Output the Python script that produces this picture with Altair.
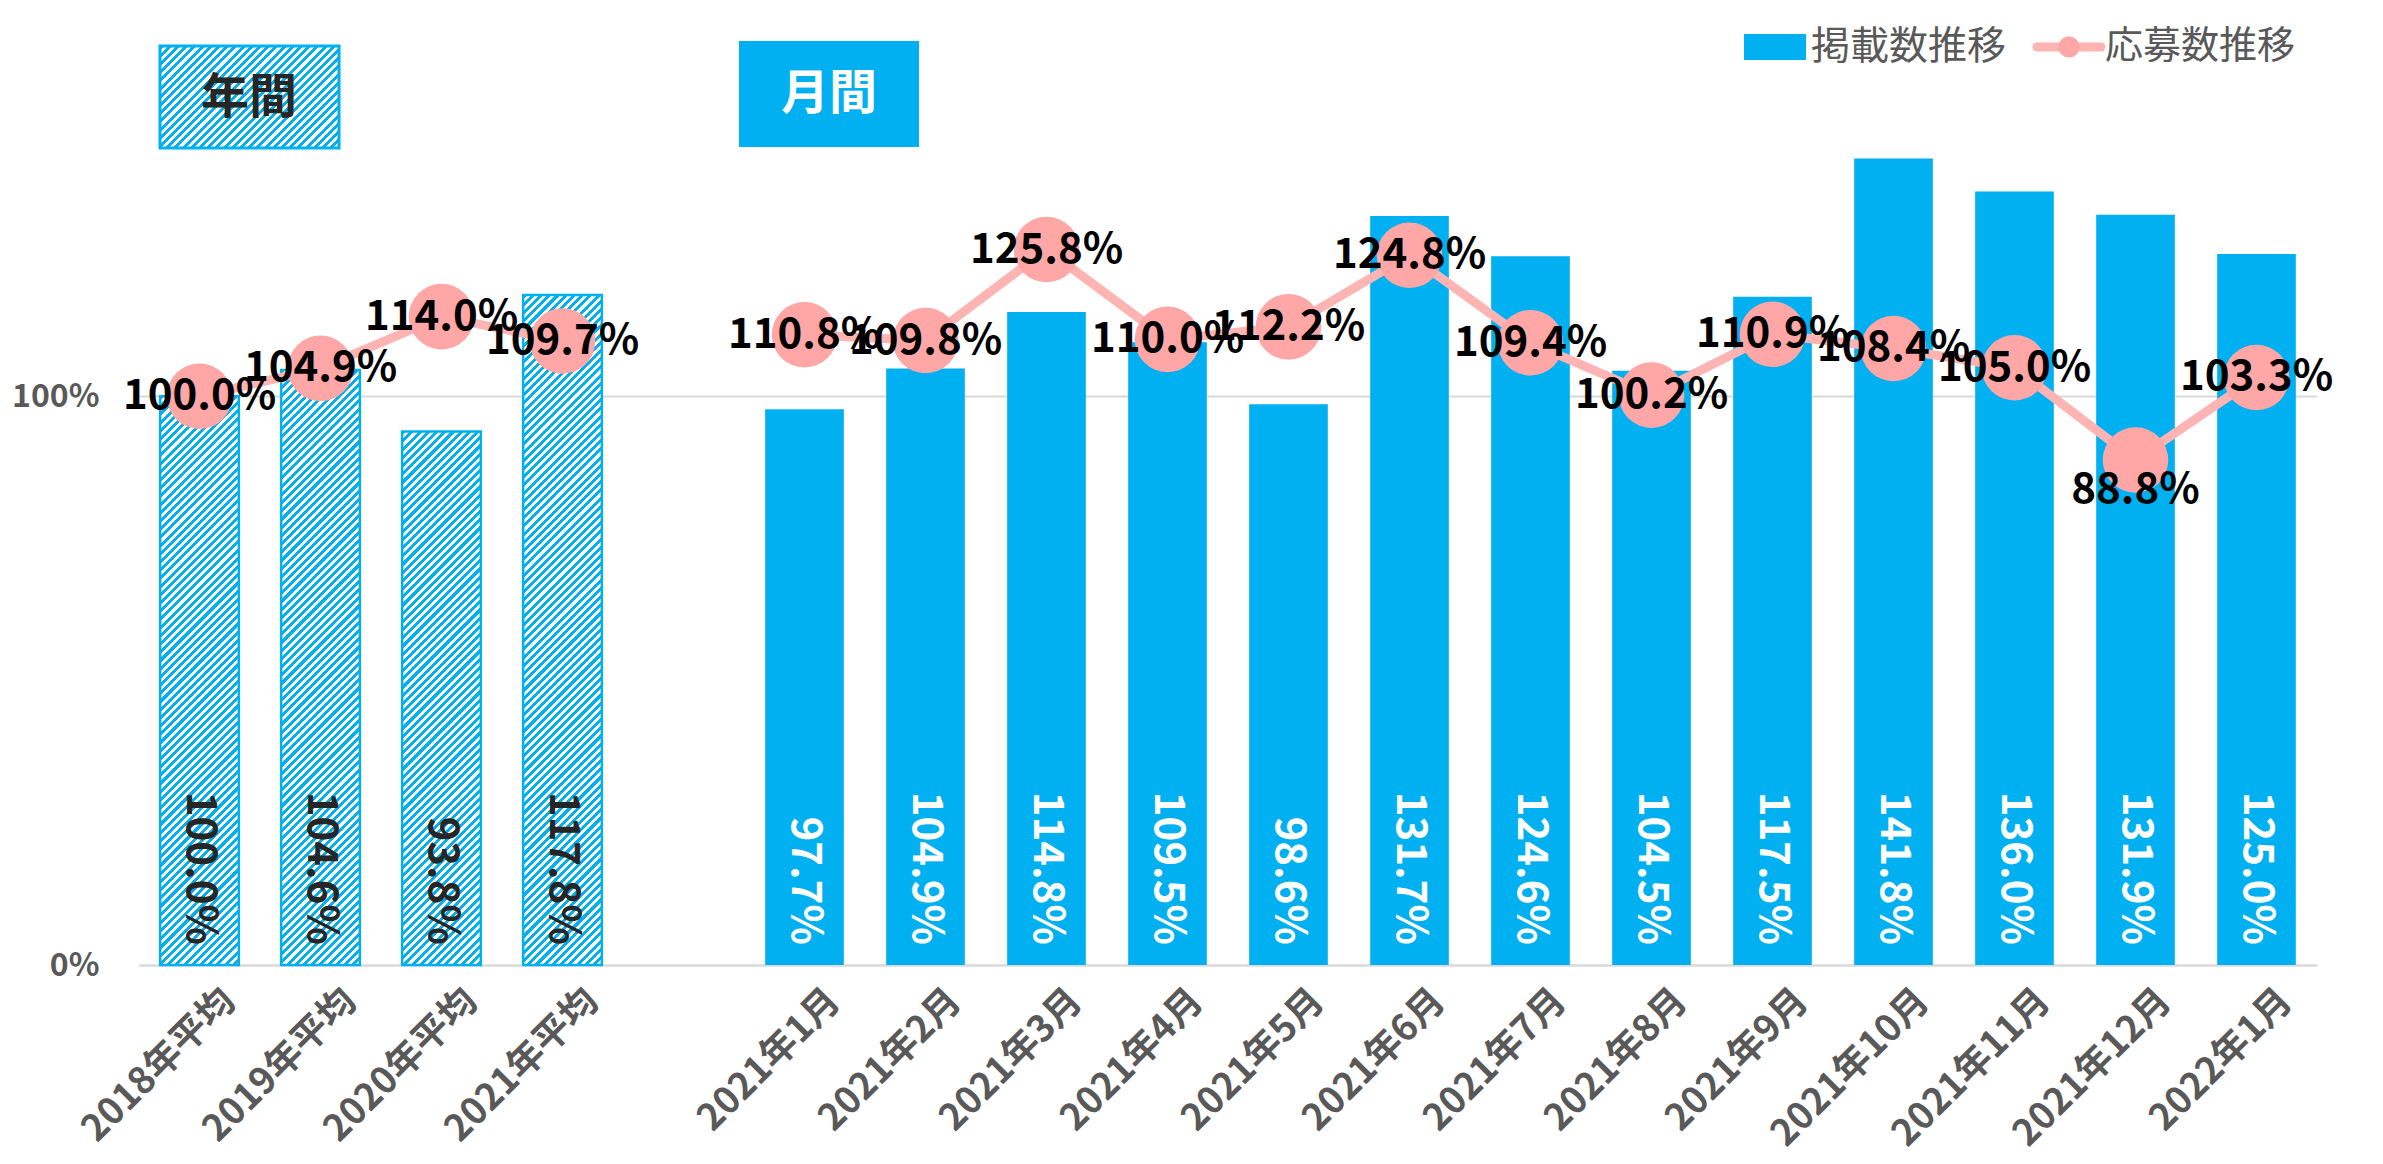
import altair as alt
import pandas as pd

# ---------------- data ----------------
categories = ["2018年平均", "2019年平均", "2020年平均", "2021年平均", " ",
              "2021年1月", "2021年2月", "2021年3月", "2021年4月", "2021年5月", "2021年6月",
              "2021年7月", "2021年8月", "2021年9月", "2021年10月", "2021年11月", "2021年12月", "2022年1月"]
period = ["年間"] * 4 + ["-"] + ["月間"] * 13
listing = [1.000, 1.046, 0.938, 1.178, None,
           0.977, 1.049, 1.148, 1.095, 0.986, 1.317, 1.246, 1.045, 1.175, 1.418, 1.360, 1.319, 1.250]
applications = [1.000, 1.049, 1.140, 1.097, None,
                1.108, 1.098, 1.258, 1.100, 1.122, 1.248, 1.094, 1.002, 1.109, 1.084, 1.050, 0.888, 1.033]
series_names = ["掲載数推移", "応募数推移"]
panel_titles = ["年間", "月間"]

df = pd.DataFrame({"cat": categories, "period": period, "listing": listing, "app": applications})

# ---------------- layout / style ----------------
W, H = 2178, 910
YMAX = 1.6
BLUE = "#00B0F0"
PINK = "#FFA6A6"
PINK_LINE = "#FFB4B4"
GRAY = "#595959"
FONT = "Noto Sans CJK JP"
P_INNER, P_OUTER = 0.35, 0.175

step = W / (len(categories) - P_INNER + 2 * P_OUTER)
bandw = step * (1 - P_INNER)


def hatch(w, h, color=BLUE, perp=5.8, frac=0.5):
    r = h / w
    a = (1 + r) / (1 + r * r)
    b = r * a
    n = (w + h) / (perp * 2 ** 0.5)
    dt = 1.0 / n
    stops = []
    k = 0
    while k * dt < 1:
        o0 = k * dt
        o1 = min(1.0, o0 + frac * dt)
        o2 = min(1.0, (k + 1) * dt)
        stops += [alt.GradientStop(offset=o0, color=color), alt.GradientStop(offset=o1, color=color),
                  alt.GradientStop(offset=o1, color="white"), alt.GradientStop(offset=o2, color="white")]
        k += 1
    return alt.LinearGradient(gradient="linear", x1=0, y1=0, x2=a, y2=b, stops=stops)


xenc = alt.X("cat:N", sort=categories,
             scale=alt.Scale(domain=categories, paddingInner=P_INNER, paddingOuter=P_OUTER),
             axis=alt.Axis(title=None, labelAngle=-45, labelAlign="right", labelBaseline="middle",
                           ticks=False, domainColor="#D9D9D9", domainWidth=2,
                           labelFontSize=37, labelFontWeight="bold", labelColor=GRAY,
                           labelFont=FONT, labelPadding=30, labelOffset=30, labelLimit=600))
yscale = alt.Scale(domain=[0, YMAX], nice=False)
yenc = alt.Y("listing:Q", scale=yscale,
             axis=alt.Axis(title=None, values=[0, 1], format=".0%", grid=True,
                           gridColor="#D9D9D9", gridWidth=2, domain=False, ticks=False,
                           labelFontSize=32, labelFontWeight="bold", labelColor=GRAY,
                           labelFont=FONT, labelPadding=40))

base = alt.Chart(df)

monthly_bars = base.mark_bar(color=BLUE).encode(x=xenc, y=yenc).transform_filter(
    alt.datum.period == "月間")

annual_layers = []
for c, v in zip(categories[:4], listing[:4]):
    hpx = v / YMAX * H
    annual_layers.append(
        base.mark_bar(fill=hatch(bandw, hpx), stroke=BLUE, strokeWidth=2.5)
        .encode(x=xenc, y=yenc)
        .transform_filter(alt.datum.cat == c)
    )

bar_labels = base.mark_text(angle=90, align="right", baseline="middle", dx=-20,
                            fontSize=42, fontWeight="bold", font=FONT).encode(
    x=xenc, y=alt.datum(0, scale=yscale),
    text=alt.Text("listing:Q", format=".1%"),
    color=alt.condition(alt.datum.period == "月間", alt.value("white"), alt.value("#262626")),
).transform_filter("isValid(datum.listing)")

yapp = alt.Y("app:Q", scale=yscale)
line = base.mark_line(color=PINK_LINE, strokeWidth=9).encode(
    x=xenc, y=yapp, detail="period:N").transform_filter("isValid(datum.app)")
points = base.mark_circle(size=4300, color=PINK, opacity=1).encode(
    x=xenc, y=yapp).transform_filter("isValid(datum.app)")
line_labels = base.mark_text(fontSize=42, fontWeight="bold", font=FONT, color="black",
                             baseline="middle").encode(
    x=xenc, y=yapp, text=alt.Text("app:Q", format=".1%")).transform_filter(
    "isValid(datum.app) && datum.app >= 0.95")
line_labels_low = base.mark_text(fontSize=42, fontWeight="bold", font=FONT, color="black",
                                 baseline="middle", dy=30).encode(
    x=xenc, y=yapp, text=alt.Text("app:Q", format=".1%")).transform_filter(
    "isValid(datum.app) && datum.app < 0.95")

# ---------------- annotation boxes ----------------
box_df = pd.DataFrame({"t": panel_titles})
box_year = alt.Chart(box_df).transform_filter(alt.datum.t == "年間").mark_rect(
    fill=hatch(179, 102), stroke=BLUE, strokeWidth=3).encode(
    x=alt.value(21), x2=alt.value(200), y=alt.value(-9), y2=alt.value(93))
box_year_t = alt.Chart(box_df).transform_filter(alt.datum.t == "年間").mark_text(
    fontSize=48, fontWeight="bold", font=FONT, color="#262626").encode(
    text="t:N", x=alt.value(110), y=alt.value(44))
box_month = alt.Chart(box_df).transform_filter(alt.datum.t == "月間").mark_rect(
    fill=BLUE).encode(x=alt.value(600), x2=alt.value(780), y=alt.value(-14), y2=alt.value(92))
box_month_t = alt.Chart(box_df).transform_filter(alt.datum.t == "月間").mark_text(
    fontSize=48, fontWeight="bold", font=FONT, color="white").encode(
    text="t:N", x=alt.value(690), y=alt.value(40))

# ---------------- legend ----------------
leg_df = pd.DataFrame({"s": series_names})
leg_rect = alt.Chart(leg_df).transform_filter(alt.datum.s == "掲載数推移").mark_rect(
    fill=BLUE).encode(x=alt.value(1605), x2=alt.value(1667), y=alt.value(-21), y2=alt.value(5))
leg_t1 = alt.Chart(leg_df).transform_filter(alt.datum.s == "掲載数推移").mark_text(
    fontSize=39, font=FONT, color=GRAY, align="left", baseline="middle").encode(
    text="s:N", x=alt.value(1672), y=alt.value(-8))
leg_line = alt.Chart(leg_df).transform_filter(alt.datum.s == "応募数推移").mark_rule(
    color=PINK_LINE, strokeWidth=9, strokeCap="round").encode(
    x=alt.value(1898), x2=alt.value(1962), y=alt.value(-8))
leg_pt = alt.Chart(leg_df).transform_filter(alt.datum.s == "応募数推移").mark_circle(
    color=PINK, opacity=1, size=450).encode(x=alt.value(1930), y=alt.value(-8))
leg_t2 = alt.Chart(leg_df).transform_filter(alt.datum.s == "応募数推移").mark_text(
    fontSize=38, font=FONT, color=GRAY, align="left", baseline="middle").encode(
    text="s:N", x=alt.value(1966), y=alt.value(-8))

chart = alt.layer(
    monthly_bars, *annual_layers, bar_labels, line, points, line_labels, line_labels_low,
    box_year, box_year_t, box_month, box_month_t,
    leg_rect, leg_t1, leg_line, leg_pt, leg_t2,
).properties(
    width=W, height=H,
    padding={"left": 131, "top": 47, "right": 52, "bottom": 195},
    autosize=alt.AutoSizeParams(type="none"),
    background="white",
).configure_view(stroke=None)

chart.save("out.html", embed_options={"renderer": "svg", "actions": False})
